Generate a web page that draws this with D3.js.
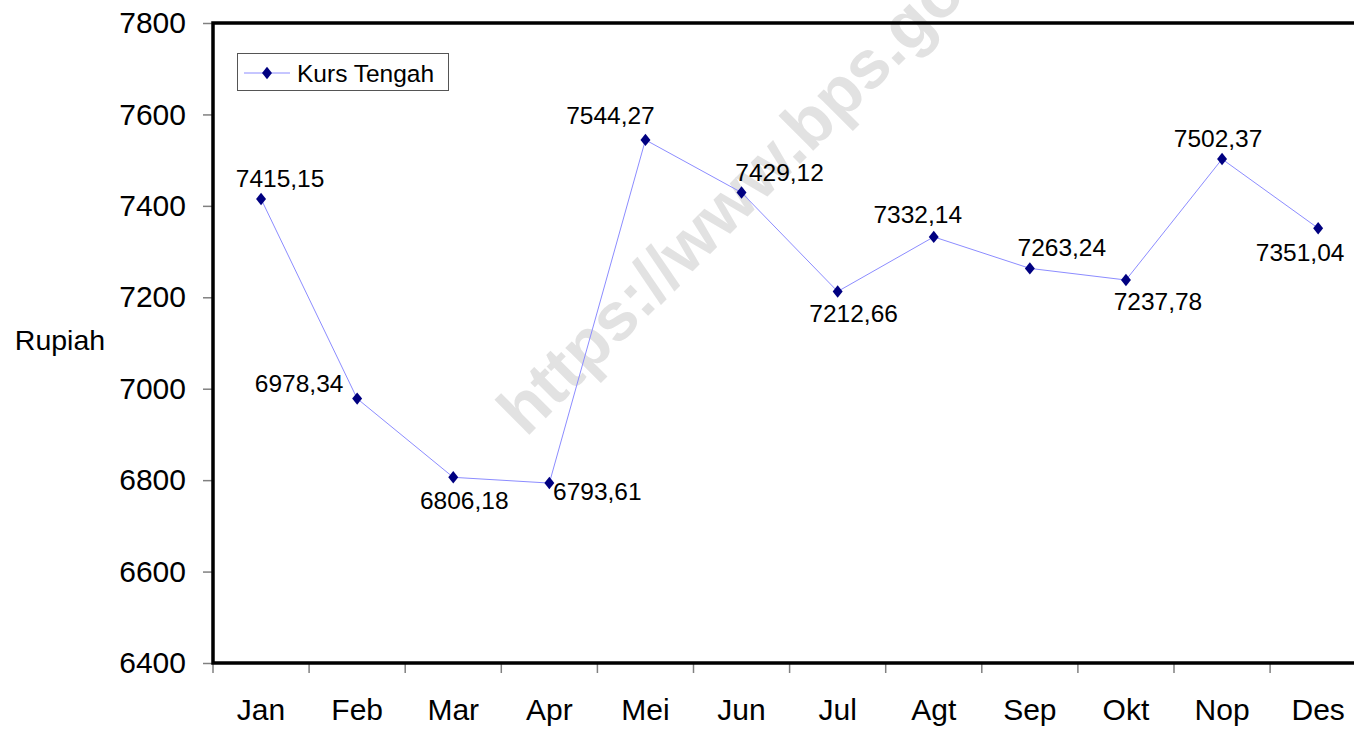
<!DOCTYPE html>
<html><head><meta charset="utf-8">
<script src="https://cdn.jsdelivr.net/npm/d3@7"></script>
<style>body{margin:0;background:#fff;overflow:hidden}svg{display:block;font-family:Arial,"Liberation Sans",sans-serif}</style>
</head><body><svg id="c" width="1354" height="730"></svg>
<script>
const months = ["Jan","Feb","Mar","Apr","Mei","Jun","Jul","Agt","Sep","Okt","Nop","Des"];
const kursTengah = [7415.15,6978.34,6806.18,6793.61,7544.27,7429.12,7212.66,7332.14,7263.24,7237.78,7502.37,7351.04];
const valueLabels = ["7415,15","6978,34","6806,18","6793,61","7544,27","7429,12","7212,66","7332,14","7263,24","7237,78","7502,37","7351,04"];
const yTicks = [6400,6600,6800,7000,7200,7400,7600,7800];
const seriesName = "Kurs Tengah";
const yTitle = "Rupiah";
// label placement (dx, dy relative to point)
const labelOffsets = [[19,-21],[-58,-15],[11,23],[48,8],[-35,-24],[38,-20],[16,22],[-16,-22],[32,-21],[32,21],[-4,-21],[-18,24]];

const svg = d3.select("#c");
const L = 213, T = 23, B = 663, step = 96.1;
const x = d3.scaleBand().domain(months).range([L, L + step*months.length]).paddingInner(0).paddingOuter(0);
const y = d3.scaleLinear().domain([6400,7800]).range([B, T]);

// watermark
svg.append("text").attr("transform","translate(526,438) rotate(-45)")
  .attr("font-size",68).attr("font-weight","bold").attr("fill","#e2e2e2")
  .text("https://www.bps.go.id");

// y axis
const ya = svg.append("g").attr("transform",`translate(${L},0)`)
  .call(d3.axisLeft(y).tickValues(yTicks).tickSize(10).tickPadding(17).tickFormat(d3.format("d")));
ya.select(".domain").remove();
ya.selectAll(".tick line").attr("stroke","#808080").attr("stroke-width",1.5);
ya.selectAll(".tick text").attr("font-size",30).attr("fill","#000").attr("font-family","Arial, Liberation Sans, sans-serif");

// x axis ticks at band boundaries
const xa = svg.append("g").attr("transform",`translate(0,${B})`)
  .call(d3.axisBottom(x).tickSize(0).tickPadding(36));
xa.select(".domain").remove();
xa.selectAll(".tick text").attr("font-size",30).attr("fill","#000").attr("font-family","Arial, Liberation Sans, sans-serif");
svg.append("g").selectAll("line").data(months).join("line")
  .attr("x1",d=>x(d)).attr("x2",d=>x(d)).attr("y1",B).attr("y2",B+10)
  .attr("stroke","#808080").attr("stroke-width",1.5);

// frame
svg.append("path").attr("d",`M1360,${T}H${L}V${B}H1360`).attr("fill","none").attr("stroke","#000").attr("stroke-width",3.5);

// y title
svg.append("text").attr("x",60).attr("y",350).attr("text-anchor","middle").attr("font-size",28.5).text(yTitle);

const cx = d => x(d) + x.bandwidth()/2;
const line = d3.line().x((d,i)=>cx(months[i])).y(d=>y(d));
svg.append("path").datum(kursTengah).attr("d",line).attr("fill","none").attr("stroke","#8c8cff").attr("stroke-width",1);

const diamond = d3.symbol().type(d3.symbolDiamond).size(55);
svg.append("g").selectAll("path").data(kursTengah).join("path")
  .attr("d",diamond).attr("transform",(d,i)=>`translate(${cx(months[i])},${y(d)}) scale(1.25,0.9)`)
  .attr("fill","#000080");

svg.append("g").selectAll("text").data(kursTengah).join("text")
  .attr("x",(d,i)=>cx(months[i])+labelOffsets[i][0])
  .attr("y",(d,i)=>y(d)+labelOffsets[i][1])
  .attr("dy","0.35em").attr("text-anchor","middle").attr("font-size",24.5)
  .text((d,i)=>valueLabels[i]);

// legend
const lg = svg.append("g");
lg.append("rect").attr("x",237.5).attr("y",53.5).attr("width",211).attr("height",37).attr("fill","#fff").attr("stroke","#555").attr("stroke-width",1);
lg.append("line").attr("x1",244).attr("x2",290).attr("y1",73).attr("y2",73).attr("stroke","#8c8cff").attr("stroke-width",1);
lg.append("path").attr("d",diamond).attr("transform","translate(267,73) scale(1.25,0.9)").attr("fill","#000080");
lg.append("text").attr("x",297).attr("y",73).attr("dy","0.35em").attr("font-size",24.5).text(seriesName);
</script></body></html>
